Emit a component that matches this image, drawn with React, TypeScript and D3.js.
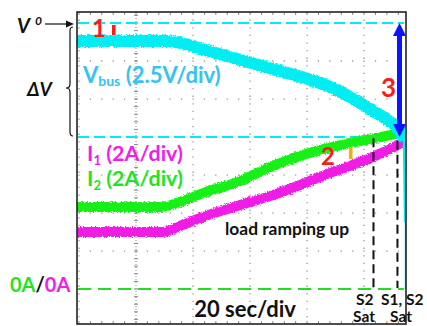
import React from "react";
import * as d3 from "d3";

// Time axis: seconds, 0 at the trigger axis, 20 s/div
const vbusTime = [-20.7, 10.2, 17.2, 24.2, 33.0, 41.8, 50.5, 59.3, 68.1, 75.1, 82.1, 88.1, 92.6, 94.0, 94.2, 94.4];
// Bus voltage relative to V0 (V), 2.5 V/div
const vbusRel = [-1.18, -1.18, -1.38, -1.78, -2.24, -2.7, -3.16, -3.62, -4.21, -4.87, -5.66, -6.38, -7.11, -7.7, -10.33, -13.1];

const i2Time = [-20.7, 8.4, 15.4, 23.5, 35.4, 47.0, 57.5, 64.6, 73.3, 82.1, 89.1, 94.7];
const i2Amps = [4.32, 4.32, 4.58, 5.05, 5.63, 6.42, 7.0, 7.32, 7.63, 7.89, 8.1, 8.32];

const i1Time = [-20.7, 9.5, 15.4, 22.5, 36.5, 47.0, 57.5, 68.1, 78.6, 89.1, 94.7];
const i1Amps = [3.0, 3.0, 3.32, 3.74, 4.42, 4.89, 5.47, 6.11, 6.68, 7.37, 7.84];

// Saturation instants (s)
const satTimes = [83.3, 91.7];

const voltsPerDiv = 2.5;
const ampsPerDiv = 2;
const v0Div = 7; // V0 reference level (divisions above 0 A)
const timeGrid = [-20, 20, 40, 60, 80];
const divGrid = [1, 2, 3, 5, 6];

const W = 427;
const H = 326;
const frame = { l: 77, r: 406, t: 12, b: 324 };

const x = d3.scaleLinear().domain([-20.7, 94.7]).range([frame.l, frame.r]);
const y = d3.scaleLinear().domain([-0.92, 7.29]).range([frame.b, frame.t]);

const smooth = d3
  .line<[number, number]>()
  .x((d) => x(d[0]))
  .y((d) => y(d[1]))
  .curve(d3.curveMonotoneX);

const straight = d3
  .line<[number, number]>()
  .x((d) => x(d[0]))
  .y((d) => y(d[1]));

const vbusPts: [number, number][] = vbusTime.map((t, i) => [t, v0Div + vbusRel[i] / voltsPerDiv]);
const i2Pts: [number, number][] = i2Time.map((t, i) => [t, i2Amps[i] / ampsPerDiv]);
const i1Pts: [number, number][] = i1Time.map((t, i) => [t, i1Amps[i] / ampsPerDiv]);

const CYAN = "#00eef2";
const GREEN = "#19f019";
const MAGENTA = "#f01ee6";
const FONT = "Lato, 'Open Sans', sans-serif";

export default function App() {
  const minorTicksX: number[] = [];
  for (let t = -20; t <= 94.7; t += 4) minorTicksX.push(t);
  const minorTicksY: number[] = [];
  for (let d = -0.8; d <= 7.29; d += 0.2) minorTicksY.push(d);

  return (
    <svg
      width={W}
      height={H}
      style={{ position: "absolute", left: 0, top: 0, display: "block", background: "#fff" }}
    >
      <defs>
        <filter id="rough" x="-5%" y="-20%" width="110%" height="140%">
          <feTurbulence type="fractalNoise" baseFrequency="0.9" numOctaves="2" seed="3" result="n" />
          <feDisplacementMap in="SourceGraphic" in2="n" scale="4" xChannelSelector="R" yChannelSelector="G" />
        </filter>
        <clipPath id="plotClip">
          <rect x={frame.l} y={frame.t} width={frame.r - frame.l} height={frame.b - frame.t} />
        </clipPath>
      </defs>

      {/* grid dots */}
      <g stroke="#9a9a9a" strokeWidth={1.3}>
        {divGrid.map((d) => (
          <line
            key={"h" + d}
            x1={frame.l}
            x2={frame.r}
            y1={y(d)}
            y2={y(d)}
            strokeDasharray={`1.3 ${x(4) - x(0) - 1.3}`}
            strokeDashoffset={-(x(-20) - frame.l) + 0.65}
          />
        ))}
        {timeGrid.map((t) => (
          <line
            key={"v" + t}
            x1={x(t)}
            x2={x(t)}
            y1={frame.t}
            y2={frame.b}
            strokeDasharray={`1.3 ${y(0) - y(0.2) - 1.3}`}
          />
        ))}
      </g>

      {/* trigger axis with minor ticks */}
      <g stroke="#888" strokeWidth={1}>
        <line x1={x(0)} x2={x(0)} y1={frame.t} y2={frame.b} strokeDasharray="1 2" />
        {minorTicksY.map((d, i) => (
          <line key={i} x1={x(0) - 2} x2={x(0) + 2} y1={y(d)} y2={y(d)} />
        ))}
        {minorTicksX.map((t, i) => (
          <g key={i}>
            <line x1={x(t)} x2={x(t)} y1={frame.b} y2={frame.b - 3} />
            <line x1={x(t)} x2={x(t)} y1={frame.t} y2={frame.t + 3} />
          </g>
        ))}
      </g>

      {/* reference levels */}
      <line x1={frame.l + 1} x2={frame.r - 2} y1={y(v0Div)} y2={y(v0Div)} stroke={CYAN} strokeWidth={2} strokeDasharray="11 5" />
      <line x1={frame.l + 1} x2={frame.r - 2} y1={y(4)} y2={y(4)} stroke={CYAN} strokeWidth={2} strokeDasharray="11 5" />
      <line x1={frame.l + 1} x2={frame.r - 2} y1={y(0)} y2={y(0)} stroke="#22dd22" strokeWidth={2} strokeDasharray="13 7" />

      {/* traces */}
      <g clipPath="url(#plotClip)">
        <g filter="url(#rough)">
          <path d={smooth(i1Pts) ?? ""} fill="none" stroke={MAGENTA} strokeWidth={10} />
          <path d={smooth(i2Pts) ?? ""} fill="none" stroke={GREEN} strokeWidth={10} />
          <path d={smooth(vbusPts.slice(0, 14)) ?? ""} fill="none" stroke={CYAN} strokeWidth={12} strokeLinejoin="round" />
        </g>
        <path d={straight(vbusPts.slice(13)) ?? ""} fill="none" stroke={CYAN} strokeWidth={2.5} />
        <line x1={frame.r - 0.5} x2={frame.r - 0.5} y1={y(1.76)} y2={y(0)} stroke={CYAN} strokeWidth={1.5} />
      </g>

      {/* saturation markers */}
      {satTimes.map((t, i) => (
        <line
          key={i}
          x1={x(t)}
          x2={x(t)}
          y1={y(i === 0 ? 3.97 : 3.9)}
          y2={y(0) - 1}
          stroke="#111"
          strokeWidth={2}
          strokeDasharray="9 5"
        />
      ))}

      {/* frame */}
      <rect x={frame.l} y={frame.t} width={frame.r - frame.l} height={frame.b - frame.t} fill="none" stroke="#222" strokeWidth={1.6} />

      {/* ΔV arrow */}
      <g fill="#0a14ff" stroke="none">
        <rect x={397} y={y(v0Div) + 10} width={5} height={y(4) - y(v0Div) - 20} />
        <path d={`M399.5,${y(v0Div)} L393,${y(v0Div) + 13} L406,${y(v0Div) + 13} Z`} />
        <path d={`M399.5,${y(4)} L393,${y(4) - 13} L406,${y(4) - 13} Z`} />
      </g>

      {/* markers 1 and 2 */}
      <rect x={112} y={25} width={3.5} height={10} fill="#ff1a1a" />
      <rect x={349} y={147} width={3.5} height={12} fill="#ffaa00" />

      <g fontFamily={FONT} fontWeight={700} fill="#ff1a1a" fontSize={24}>
        <text x={92} y={37}>1</text>
        <text x={321} y={165}>2</text>
        <text x={381} y={97} fontSize={26}>3</text>
      </g>

      {/* V0 pointer and brace */}
      <g stroke="#111" fill="none" strokeWidth={1.2}>
        <line x1={45} x2={68} y1={24} y2={24} />
        <path d="M73,27 Q70,27 70,31 L70,84 Q70,88 66,88 Q70,88 70,92 L70,132 Q70,136 73,136" />
      </g>
      <path d="M74,24 L66,20.5 L66,27.5 Z" fill="#111" />

      <g fontFamily={FONT} fontWeight={700} fontStyle="italic" fill="#111">
        <text x={17} y={33} fontSize={20}>V</text>
        <text x={35} y={25} fontSize={12}>0</text>
        <text x={27} y={96} fontSize={19}>ΔV</text>
      </g>

      {/* trace labels */}
      <g fontFamily={FONT} fontWeight={700}>
        <text x={83} y={83} fontSize={22} fill="#33c4f2">
          V<tspan fontSize={14} dy={3}>bus</tspan>
          <tspan dy={-3}> (2.5V/div)</tspan>
        </text>
        <text x={87} y={161} fontSize={21.5} fill={MAGENTA}>
          I<tspan fontSize={13} dy={4}>1</tspan>
          <tspan dy={-4}> (2A/div)</tspan>
        </text>
        <text x={87} y={186} fontSize={21.5} fill="#1ee61e">
          I<tspan fontSize={13} dy={4}>2</tspan>
          <tspan dy={-4}> (2A/div)</tspan>
        </text>
        <text x={225} y={235} fontSize={17.4} fill="#111">load ramping up</text>
        <text x={10} y={292} fontSize={20}>
          <tspan fill="#1ee61e">0A</tspan>
          <tspan fill="#111">/</tspan>
          <tspan fill={MAGENTA}>0A</tspan>
        </text>
        <text x={296} y={317} fontSize={22} fill="#111" textAnchor="end">20 sec/div</text>
        <g fontSize={15.5} fill="#111">
          <text x={356} y={305}>S2</text>
          <text x={381} y={305}>S1, S2</text>
          <text x={353} y={322}>Sat</text>
          <text x={390} y={322}>Sat</text>
        </g>
      </g>
    </svg>
  );
}
